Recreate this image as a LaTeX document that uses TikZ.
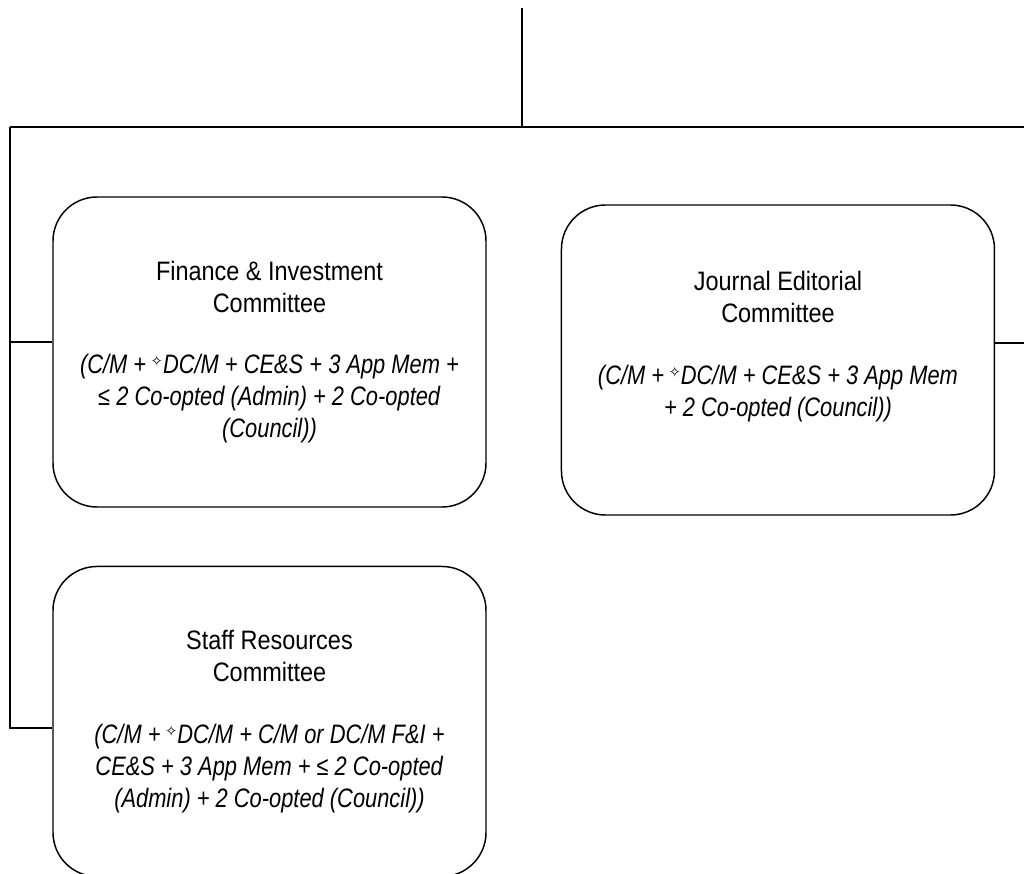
\documentclass[tikz,border=0pt]{standalone}
\usepackage{fontspec}
\setmainfont{Liberation Sans}[UprightFeatures={FakeStretch=0.88},ItalicFeatures={FakeStretch=0.82}]
\newfontfamily\symfont{DejaVu Sans}
\usetikzlibrary{positioning}
\newcommand{\dstar}{\raisebox{5pt}{\symfont\fontsize{11}{11}\selectfont ✧}}

\begin{document}
\begin{tikzpicture}[x=0.75pt, y=-0.75pt, node distance={55.5pt},
  box/.style = {draw, line width=1.1pt, rounded corners=33pt, minimum width=324.75pt, minimum height=232.5pt, align=center, inner sep=0pt, font=\fontsize{20}{24}\selectfont},
  wire/.style = {line width=0.8pt}]
\useasboundingbox (0,0) rectangle (1024,874);
\node[box] (fin) at (269.5,352) {Finance \& Investment\\ Committee\\[22pt] \textit{(C/M +\,\dstar DC/M + CE\&S + 3 App Mem +}\\ \textit{≤ 2 Co-opted (Admin) + 2 Co-opted}\\ \textit{(Council))}};
\node[box] (jrnl) [right=of fin, yshift=-6pt] {Journal Editorial\\ Committee\\[22pt] \textit{(C/M +\,\dstar DC/M + CE\&S + 3 App Mem}\\ \textit{+ 2 Co-opted (Council))}\\ \mbox{}};
\node[box] (stf) [below=43.5pt of fin] {Staff Resources\\ Committee\\[22pt] \textit{(C/M +\,\dstar DC/M + C/M or DC/M F\&I +}\\ \textit{CE\&S + 3 App Mem + ≤ 2 Co-opted}\\ \textit{(Admin) + 2 Co-opted (Council))}};
\coordinate (top) at (522,8);
\coordinate (hub) at (522,127);
\coordinate (lefttop) at (10,127);
\coordinate (righttop) at (1024,127);
\coordinate (finjoin) at (10,342);
\coordinate (stfjoin) at (10,728);
\coordinate (jrnljoin) at (1024,343);
\draw[wire] (top) -- (hub);
\draw[wire] (lefttop) -- (righttop);
\draw[wire] (lefttop) -- (stfjoin) -- (stfjoin -| stf.west);
\draw[wire] (finjoin) -- (finjoin -| fin.west);
\draw[wire] (jrnljoin -| jrnl.east) -- (jrnljoin);
\end{tikzpicture}
\end{document}
